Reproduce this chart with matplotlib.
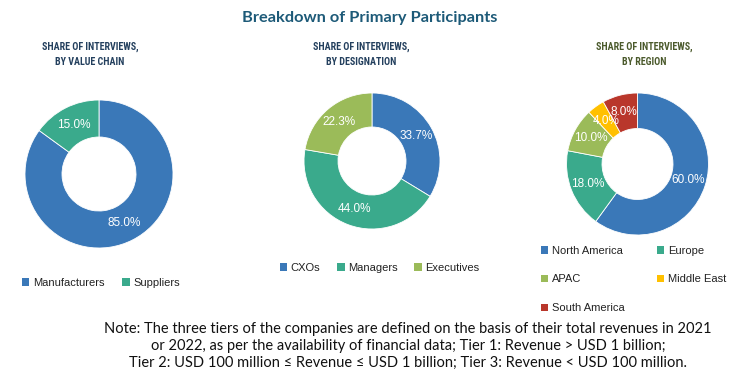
import matplotlib
matplotlib.use("Agg")
import matplotlib.pyplot as plt
from matplotlib.patches import Patch

W, H = 738, 378

# data
chain_labels = ["Manufacturers", "Suppliers"]
chain_values = [85.0, 15.0]
desig_labels = ["CXOs", "Managers", "Executives"]
desig_values = [33.7, 44.0, 22.3]
region_labels = ["North America", "Europe", "APAC", "Middle East", "South America"]
region_values = [60.0, 18.0, 10.0, 4.0, 8.0]

blue = "#3a78b8"
teal = "#3aaa8c"
green = "#9bbb59"
yellow = "#ffc000"
red = "#b9372b"
chain_colors = [blue, teal]
desig_colors = [blue, teal, green]
region_colors = [blue, teal, green, yellow, red]

fig = plt.figure(figsize=(W / 100, H / 100), dpi=100)
ax = fig.add_axes([0, 0, 1, 1])

narrow = ["Liberation Sans Narrow", "Roboto Condensed", "Roboto", "DejaVu Sans"]
lab_font = ["Liberation Sans", "DejaVu Sans"]


def donut(values, colors, cx, cy, r):
    wedges, _, autotexts = ax.pie(
        values, colors=colors, center=(cx, H - cy), radius=r,
        startangle=90, counterclock=False, autopct="%.1f%%",
        pctdistance=0.75, frame=True,
        wedgeprops=dict(width=r * 0.5, edgecolor="white", linewidth=0.6),
        textprops=dict(color="white", fontsize=8.5, family=lab_font))
    return wedges


w1 = donut(chain_values, chain_colors, 99, 174, 74)
w2 = donut(desig_values, desig_colors, 372, 161, 68)
w3 = donut(region_values, region_colors, 637.5, 164, 71)
ax.set_xlim(0, W)
ax.set_ylim(0, H)
ax.set_aspect("equal")
ax.axis("off")

fig.text(370 / W, 1 - 18 / H, "Breakdown of Primary Participants", ha="center",
         va="center", fontsize=11.8, fontweight="bold", color="#1d5a78",
         family=["Lato", "DejaVu Sans"])

subs = [(90, "SHARE OF INTERVIEWS,\nBY VALUE CHAIN", "#24405e"),
        (361, "SHARE OF INTERVIEWS,\nBY DESIGNATION", "#24405e"),
        (644, "SHARE OF INTERVIEWS,\nBY REGION", "#4b5a2c")]
for x, s, c in subs:
    fig.text(x / W, 1 - 54 / H, s, ha="center", va="center", fontsize=7.2,
             fontweight="bold", color=c, family=narrow, linespacing=1.6)


def leg(wedges, labels, x, y, ncol, colsp, rowsp=0.5, order=None):
    handles = [Patch(facecolor=w.get_facecolor()) for w in wedges]
    if order is not None:
        handles = [handles[i] for i in order]
        labels = [labels[i] for i in order]
    fig.legend(handles, labels, loc="upper left", ncol=ncol,
               bbox_to_anchor=(x / W, 1 - y / H), frameon=False,
               prop=dict(family=lab_font, size=8), handlelength=0.7,
               handleheight=0.7, handletextpad=0.3, columnspacing=colsp,
               labelspacing=rowsp, borderpad=0, labelcolor="#222222")


leg(w1, chain_labels, 16, 272, 2, 1.6)
leg(w2, desig_labels, 274, 257, 3, 1.5)
leg(w3, region_labels, 535, 240, 2, 2.9, rowsp=1.7, order=[0, 2, 4, 1, 3])

note = ("Note: The three tiers of the companies are defined on the basis of their total revenues in 2021\n"
        "or 2022, as per the availability of financial data; Tier 1: Revenue > USD 1 billion;\n"
        "Tier 2: USD 100 million \u2264 Revenue \u2264 USD 1 billion; Tier 3: Revenue < USD 100 million.")
fig.text(408 / W, 1 - 346 / H, note, ha="center", va="center", fontsize=10.5,
         color="#111111", family=["Lato", "DejaVu Sans"], linespacing=1.25)

fig.savefig("out.png", dpi=100)
